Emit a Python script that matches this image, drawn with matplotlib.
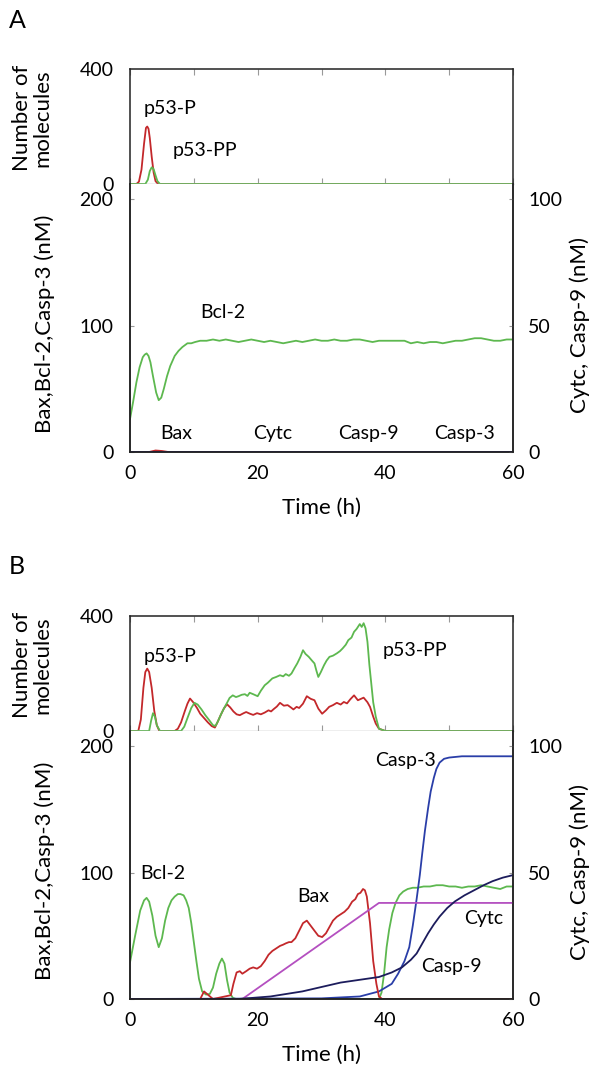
import matplotlib
matplotlib.use("Agg")
import matplotlib.pyplot as plt

plt.rcParams["font.family"] = ["Lato", "DejaVu Sans"]

RED = "#c3282b"
GREEN = "#5db84f"
MAGENTA = "#b44fc0"
BLUE = "#2a3ea8"
NAVY = "#1c1c5c"

# ---------------- panel A data ----------------
t_p53p_a = [0, 1.0, 1.4, 1.8, 2.2, 2.5, 2.7, 2.9, 3.1, 3.4, 3.7, 4.0, 4.4, 60]
p53p_a = [0, 0, 8, 50, 140, 195, 200, 192, 160, 95, 40, 10, 0, 0]
t_p53pp_a = [0, 2.4, 2.8, 3.1, 3.4, 3.7, 4.0, 4.3, 4.7, 60]
p53pp_a = [0, 0, 15, 45, 58, 52, 30, 10, 0, 0]

t_bcl2_a = [0, 0.5, 1, 1.5, 2, 2.3, 2.6, 2.9, 3.2, 3.6, 4.1, 4.5, 4.9, 5.3,
            5.8, 6.3, 7, 7.6, 8.2, 9, 9.6, 10.2, 11, 12, 13, 14, 15, 16, 17,
            18, 19, 20, 21, 22, 23, 24, 25, 26, 27, 28, 29, 30, 31, 32, 33,
            34, 35, 36, 37, 38, 39, 40, 41, 42, 43, 44, 45, 46, 47, 48, 49,
            50, 51, 52, 53, 54, 55, 56, 57, 58, 59, 60]
bcl2_a = [26, 40, 55, 67, 75, 77, 78, 76, 71, 60, 47, 41, 43, 50, 60, 68, 76,
          80, 83, 86, 86, 87, 88, 88, 89, 88, 89, 88, 87, 88, 89, 88, 87, 88,
          87, 86, 87, 88, 87, 88, 89, 88, 88, 89, 88, 88, 89, 89, 88, 87, 88,
          88, 88, 88, 88, 86, 87, 86, 87, 87, 86, 87, 88, 88, 89, 90, 90, 89,
          88, 88, 89, 89]
t_bax_a = [0, 3, 4, 5, 6, 60]
bax_a = [0, 0, 1.2, 0.8, 0, 0]
t_flat_a = [0, 60]
cytc_a = [0, 0]
casp9_a = [0, 0]
casp3_a = [0, 0]

# ---------------- panel B data ----------------
t_p53p_b = [0, 1.3, 1.7, 2.1, 2.4, 2.7, 3.0, 3.4, 3.8, 4.2, 4.6, 7.0, 7.5,
            8.0, 8.6, 9.0, 9.4, 9.9, 10.5, 11.0, 11.6, 12.2, 12.8, 13.3, 13.7,
            14.2, 14.7, 15.2, 15.7, 16.2, 16.7, 17.2, 17.8, 18.2, 18.8, 19.3,
            19.9, 20.5, 21.1, 21.7, 22.1, 22.5, 23.0, 23.5, 24.1, 24.7, 25.2,
            25.6, 26.1, 26.5, 27.1, 27.7, 28.3, 28.9, 29.5, 30.1, 30.7, 31.2,
            31.8, 32.4, 33.0, 33.5, 34.0, 34.5, 35.1, 35.7, 36.2, 36.6, 37.2,
            37.6, 38.1, 38.5, 39.0, 40, 60]
p53p_b = [0, 0, 40, 150, 205, 217, 205, 150, 70, 20, 0, 0, 8, 30, 70, 95, 113,
          100, 80, 60, 45, 30, 17, 12, 30, 55, 78, 93, 82, 68, 58, 55, 62, 66,
          60, 56, 62, 58, 64, 72, 68, 76, 85, 98, 88, 90, 82, 75, 84, 80, 95,
          121, 112, 107, 78, 60, 72, 84, 90, 98, 92, 101, 96, 110, 124, 107,
          112, 116, 100, 84, 50, 26, 8, 0, 0]
t_p53pp_b = [0, 3.0, 3.3, 3.6, 3.9, 4.2, 4.7, 8.0, 8.5, 9.0, 9.6, 10.1, 10.6,
             11.2, 11.8, 12.4, 13.0, 13.4, 13.8, 14.3, 14.8, 15.2, 15.6, 16.1,
             16.6, 17.0, 17.5, 18.0, 18.4, 18.75, 19.3, 20.0, 20.5, 21.1, 21.6,
             22.3, 22.9, 23.5, 24.0, 24.4, 24.9, 25.3, 25.8, 26.2, 26.7, 27.1,
             27.5, 28.0, 28.5, 28.9, 29.2, 29.5, 29.9, 30.4, 30.8, 31.25, 31.8,
             32.4, 32.9, 33.3, 33.8, 34.2, 34.7, 35.1, 35.5, 36.0, 36.3, 36.6,
             36.9, 37.2, 37.5, 37.8, 38.1, 38.5, 39.0, 40, 60]
p53pp_b = [0, 0, 35, 62, 50, 20, 0, 0, 15, 45, 80, 98, 92, 75, 55, 38, 20, 18,
           35, 60, 82, 98, 115, 124, 118, 121, 126, 128, 122, 133, 128, 121,
           140, 159, 168, 183, 188, 194, 190, 198, 192, 200, 220, 235, 258,
           281, 268, 258, 245, 235, 210, 188, 205, 229, 245, 258, 262, 270,
           278, 287, 300, 316, 325, 345, 355, 372, 362, 375, 357, 310, 230,
           165, 100, 50, 8, 0, 0]

t_bcl2_b = [0, 0.8, 1.6, 2.2, 2.6, 3.0, 3.5, 4.0, 4.5, 5.0, 5.5, 6.0, 6.5, 7.0,
            7.5, 7.9, 8.4, 8.8, 9.2, 9.6, 10.0, 10.4, 10.8, 11.3, 11.9, 12.5,
            13.0, 13.5, 14.0, 14.4, 14.8, 15.2, 15.6, 16.1, 16.6, 39.0, 39.4,
            39.8, 40.2, 40.6, 41.1, 41.6, 42.2, 42.8, 43.5, 44.3, 45, 46, 47,
            48, 49, 50, 51, 52, 53, 54, 55, 56, 57, 58, 59, 60]
bcl2_b = [29, 50, 70, 78, 80, 77, 66, 50, 41, 48, 62, 72, 78, 81, 83, 83, 82,
          78, 72, 60, 45, 30, 16, 6, 3.5, 4, 9, 20, 28, 32, 28, 15, 5, 1, 0,
          0, 5, 20, 41, 55, 68, 76, 82, 85, 87, 88, 88, 89, 89, 90, 90, 89, 89,
          88, 89, 89, 90, 89, 88, 87, 89, 89]
t_bax_b = [0, 11.0, 11.6, 12.3, 13.0, 15.8, 16.2, 16.7, 17.2, 17.6, 18.2,
           18.75, 19.3, 19.9, 20.5, 21.1, 21.7, 22.3, 22.9, 23.5, 24.0, 24.4,
           24.9, 25.3, 25.9, 26.5, 27.1, 27.7, 28.3, 28.9, 29.5, 30.1, 30.7,
           31.25, 31.8, 32.4, 33.0, 33.6, 34.2, 34.8, 35.3, 35.7, 36.1, 36.5,
           36.8, 37.1, 37.6, 38.1, 38.6, 39.0, 39.5, 40, 60]
bax_b = [0, 0, 6, 3, 0, 3, 12, 21, 22, 20, 22, 24, 25, 24, 26, 30, 35, 38, 40,
         42, 43, 44, 45, 45, 48, 54, 60, 62, 58, 54, 50, 49, 52, 57, 62, 65,
         67, 69, 72, 77, 79, 83, 84, 87, 86, 81, 60, 30, 12, 2, 0, 0, 0]
t_cytc_b = [0, 17.6, 39.0, 60]
cytc_b = [0, 0, 38, 38]
t_casp9_b = [0, 17, 22, 27, 33, 39, 41, 42.6, 44.0, 44.9, 45.8, 46.7, 47.6,
             48.5, 49.7, 50.9, 52.4, 53.9, 55.4, 56.8, 58.4, 60]
casp9_b = [0, 0, 1, 3, 6.5, 8.7, 10.5, 12.5, 15.5, 18, 22, 26, 29.5, 32.6,
           36, 38.6, 41, 43, 45, 46.6, 48, 49]
t_casp3_b = [0, 30, 36, 39, 41, 42, 43, 43.75, 44.3, 44.9, 45.4, 45.8, 46.2,
             46.7, 47.1, 47.6, 48.0, 48.5, 49.2, 50, 52, 60]
casp3_b = [0, 0.5, 2, 6, 12, 20, 30, 41, 58, 79, 98, 116, 133, 151, 164, 175,
           182, 187, 190, 191, 192, 192]

W, H = 595, 1071
fig = plt.figure(figsize=(W / 100, H / 100), dpi=100)

FS_TICK = 14
FS_ANN = 14
FS_LAB = 16


def fx(px):
    return px / W


def fy(py):
    return 1 - py / H


def style_top(ax):
    ax.set_xlim(0, 60)
    ax.set_ylim(0, 400)
    ax.set_yticks([0, 400])
    ax.set_xticks(range(0, 61, 10))
    ax.tick_params(axis="x", direction="in", top=True, length=4, color="#999999",
                   labelbottom=False)
    ax.tick_params(axis="y", direction="in", length=0, labelsize=FS_TICK, pad=12)
    for s in ["left", "right", "top"]:
        ax.spines[s].set_color("#222222")
        ax.spines[s].set_linewidth(1.1)
    ax.spines["bottom"].set_color("#aaaaaa")
    ax.spines["bottom"].set_linewidth(1.0)


def style_low(ax, ax2):
    ax.set_xlim(0, 60)
    ax.set_ylim(0, 212)
    ax2.set_ylim(0, 106)
    ax.set_yticks([0, 100, 200])
    ax2.set_yticks([0, 50, 100])
    ax.set_xticks([0, 20, 40, 60])
    ax.tick_params(axis="x", direction="in", length=0, labelsize=FS_TICK, pad=9)
    ax.tick_params(axis="y", direction="in", length=3, color="#999999",
                   labelsize=FS_TICK, pad=12)
    ax2.tick_params(axis="y", direction="in", length=3, color="#999999",
                    labelsize=FS_TICK, pad=11)
    for a in (ax, ax2):
        for s in ["left", "right", "bottom"]:
            a.spines[s].set_color("#222222")
            a.spines[s].set_linewidth(1.1)
        a.spines["top"].set_visible(False)


lw = 1.3

# ---------------- panel A ----------------
axA1 = fig.add_axes([fx(130), fy(184), fx(383), 115 / H])
axA1.plot(t_p53p_a, p53p_a, color=RED, lw=lw)
axA1.plot(t_p53pp_a, p53pp_a, color=GREEN, lw=lw)
style_top(axA1)
axA1.text(6.25, 262, "p53-P", fontsize=FS_ANN, ha="center", va="center")
axA1.text(11.8, 117, "p53-PP", fontsize=FS_ANN, ha="center", va="center")

axA2 = fig.add_axes([fx(130), fy(452), fx(383), 268 / H])
axA2r = axA2.twinx()
axA2.plot(t_bcl2_a, bcl2_a, color=GREEN, lw=lw)
axA2.plot(t_bax_a, bax_a, color=RED, lw=lw)
axA2.plot(t_flat_a, casp3_a, color=BLUE, lw=lw)
axA2r.plot(t_flat_a, cytc_a, color=MAGENTA, lw=lw)
axA2r.plot(t_flat_a, casp9_a, color=NAVY, lw=lw)
style_low(axA2, axA2r)
axA2.text(14.6, 110, "Bcl-2", fontsize=FS_ANN, ha="center", va="center")
for tx, lab in [(7.3, "Bax"), (22.3, "Cytc"), (37.3, "Casp-9"), (52.4, "Casp-3")]:
    axA2.text(tx, 15, lab, fontsize=FS_ANN, ha="center", va="center")

# ---------------- panel B ----------------
axB1 = fig.add_axes([fx(130), fy(731), fx(383), 115 / H])
axB1.plot(t_p53p_b, p53p_b, color=RED, lw=lw)
axB1.plot(t_p53pp_b, p53pp_b, color=GREEN, lw=lw)
style_top(axB1)
axB1.text(6.25, 258, "p53-P", fontsize=FS_ANN, ha="center", va="center")
axB1.text(44.6, 281, "p53-PP", fontsize=FS_ANN, ha="center", va="center")

axB2 = fig.add_axes([fx(130), fy(999), fx(383), 268 / H])
axB2r = axB2.twinx()
axB2.plot(t_bcl2_b, bcl2_b, color=GREEN, lw=lw)
axB2r.plot(t_cytc_b, cytc_b, color=MAGENTA, lw=lw)
axB2r.plot(t_casp9_b, casp9_b, color=NAVY, lw=lw)
axB2.plot(t_casp3_b, casp3_b, color=BLUE, lw=lw)
axB2.plot(t_bax_b, bax_b, color=RED, lw=lw)
style_low(axB2, axB2r)
axB2.text(43.2, 189, "Casp-3", fontsize=FS_ANN, ha="center", va="center")
axB2.text(5.2, 99, "Bcl-2", fontsize=FS_ANN, ha="center", va="center")
axB2.text(28.75, 81, "Bax", fontsize=FS_ANN, ha="center", va="center")
axB2.text(55.4, 64, "Cytc", fontsize=FS_ANN, ha="center", va="center")
axB2.text(50.3, 26, "Casp-9", fontsize=FS_ANN, ha="center", va="center")

# ---------------- labels ----------------
for dy, letter in [(0, "A"), (547, "B")]:
    fig.text(fx(17), fy(20 + dy), letter, fontsize=18, ha="center", va="center")
    fig.text(fx(32), fy(118 + dy), "Number of\nmolecules", fontsize=FS_LAB,
             rotation=90, ha="center", va="center", linespacing=1.0,
             multialignment="center")
    fig.text(fx(45), fy(324 + dy), "Bax,Bcl-2,Casp-3 (nM)", fontsize=FS_LAB,
             rotation=90, ha="center", va="center")
    fig.text(fx(580), fy(325 + dy), "Cytc, Casp-9 (nM)", fontsize=FS_LAB,
             rotation=90, ha="center", va="center")
    fig.text(fx(321), fy(508 + dy), "Time (h)", fontsize=FS_LAB,
             ha="center", va="center")

fig.savefig("out.png", dpi=100)
